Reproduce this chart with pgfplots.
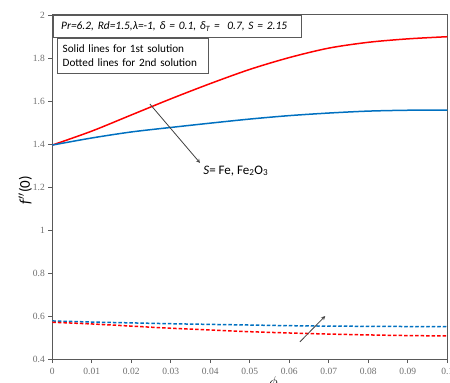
\documentclass[border=0pt]{standalone}
\usepackage{fontspec}
\setmainfont{Carlito}
\newfontfamily\tickfont{Liberation Serif}
\usepackage{pgfplots}
\pgfplotsset{compat=1.18}
\definecolor{axgray}{RGB}{89,89,89}
\definecolor{tickgray}{RGB}{110,110,110}
\definecolor{myblue}{RGB}{0,112,192}
\definecolor{myred}{RGB}{255,0,0}
\begin{document}
\begin{tikzpicture}
\begin{axis}[
  name=ax,
  scale only axis,
  width=395bp, height=344bp,
  xmin=0, xmax=0.1, ymin=0.4, ymax=2,
  xtick={0,0.01,0.02,0.03,0.04,0.05,0.06,0.07,0.08,0.09,0.1},
  xticklabels={0,0.01,0.02,0.03,0.04,0.05,0.06,0.07,0.08,0.09,0.1},
  ytick={0.4,0.6,0.8,1,1.2,1.4,1.6,1.8,2},
  yticklabels={0.4,0.6,0.8,1,1.2,1.4,1.6,1.8,2},
  xtick pos=bottom, ytick pos=left,
  tick align=outside,
  major tick length=4bp,
  axis line style={axgray, line width=1bp},
  every tick/.style={axgray, line width=0.8bp},
  tick label style={font=\tickfont\fontsize{9.5bp}{11bp}\selectfont, text=tickgray},
  /pgf/number format/assume math mode=true,
  xticklabel style={yshift=-2bp},
  ylabel={\fontsize{15bp}{17bp}\selectfont\textit{f}$^{\prime\prime}$(0)},
  ylabel style={at={(rel axis cs:0,0.49)}, anchor=center, yshift=27bp, text=black},
  xlabel={\fontsize{15bp}{17bp}\selectfont$\phi$},
  xlabel style={at={(rel axis cs:0.56,0)}, anchor=north, yshift=-14bp},
  clip=false,
]
% 1st solution (solid)
\addplot[myred, line width=1.5bp, smooth] coordinates {
(0,1.395) (0.01,1.46) (0.02,1.535) (0.03,1.61) (0.04,1.681) (0.05,1.747)
(0.06,1.802) (0.07,1.846) (0.08,1.873) (0.09,1.889) (0.1,1.899)};
\addplot[myblue, line width=1.5bp, smooth] coordinates {
(0,1.395) (0.01,1.428) (0.02,1.456) (0.03,1.477) (0.04,1.497) (0.05,1.516)
(0.06,1.532) (0.07,1.544) (0.08,1.553) (0.09,1.557) (0.1,1.558)};
% 2nd solution (dashed)
\addplot[myblue, line width=1.5bp, dash pattern=on 3.5bp off 2bp, smooth] coordinates {
(0,0.577) (0.01,0.572) (0.02,0.568) (0.03,0.564) (0.04,0.561) (0.05,0.558)
(0.06,0.555) (0.07,0.553) (0.08,0.552) (0.09,0.551) (0.1,0.55)};
\addplot[myred, line width=1.5bp, dash pattern=on 3.5bp off 2bp, smooth] coordinates {
(0,0.571) (0.01,0.563) (0.02,0.553) (0.03,0.543) (0.04,0.535) (0.05,0.527)
(0.06,0.521) (0.07,0.516) (0.08,0.512) (0.09,0.509) (0.1,0.507)};
% arrows
\draw[-stealth, line width=0.8bp, black!75] (axis cs:0.0247,1.586) -- (axis cs:0.0374,1.312);
\draw[-stealth, line width=0.8bp, black!75] (axis cs:0.0627,0.48) -- (axis cs:0.0691,0.60);
\node[anchor=west, font=\fontsize{13bp}{15bp}\selectfont, inner sep=0pt] at (axis cs:0.0382,1.275) {\textit{S}= Fe, Fe\textsubscript{2}O\textsubscript{3}};
% boxes
\node[draw=axgray, line width=1bp, fill=white, anchor=north west, text width=232bp, inner xsep=8bp, inner ysep=0pt, minimum height=22bp, align=left, font=\fontsize{11.4bp}{13bp}\selectfont\itshape] (b1) at (rel axis cs:0.001,1) {Pr=6.2, Rd=1.5,λ=-1, δ = 0.1, δ\textsubscript{T} =\ \ 0.7, S = 2.15};
\node[draw=axgray, line width=1bp, fill=white, anchor=north west, text width=140bp, inner xsep=5.5bp, inner ysep=0pt, minimum height=35bp, align=left, font=\fontsize{11.2bp}{14.3bp}\selectfont] at ([xshift=4bp]b1.south west) {Solid lines for 1st solution\\Dotted lines for 2nd solution};
\end{axis}
\pgfresetboundingbox
\path[use as bounding box] (ax.south west) ++(-52.3bp,-24bp) rectangle ++(450bp,383bp);
\end{tikzpicture}
\end{document}
